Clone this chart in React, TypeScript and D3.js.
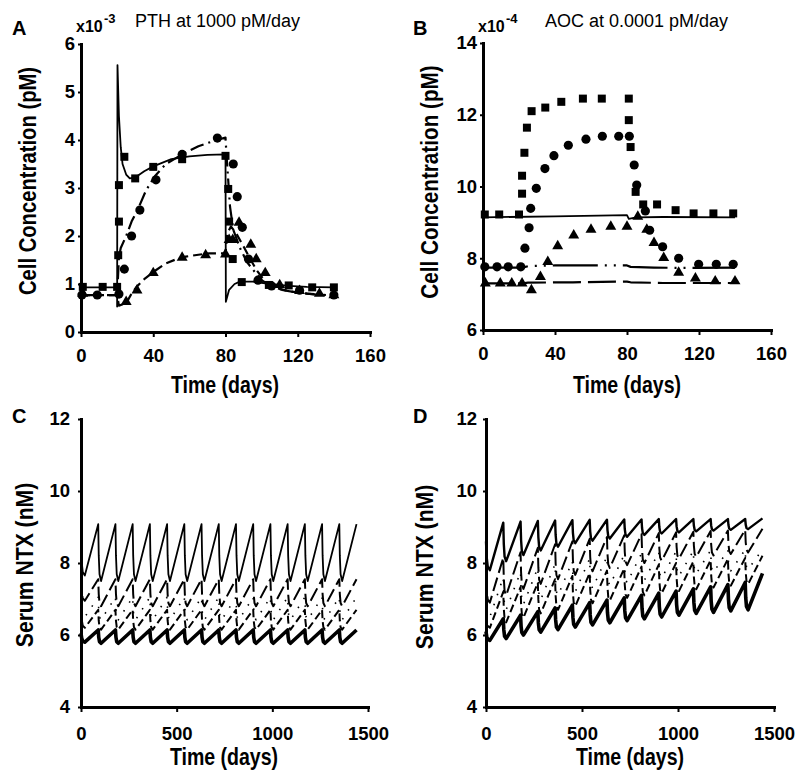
import React, { useEffect, useRef } from "react";
import * as d3 from "d3";

const FONT = "'Liberation Sans', Arial, Helvetica, sans-serif";

// ---------- Panel A : PTH at 1000 pM/day (x10^-3 pM) ----------
const aTicksX = [0, 40, 80, 120, 160];
const aTicksY = [0, 1, 2, 3, 4, 5, 6];
const aSquares: [number, number][] = [
  [1, 0.94], [12, 0.94], [20, 0.94], [20.6, 1.6], [21, 2.3], [21, 3.06], [24, 3.65], [30, 3.2],
  [40, 3.44], [56, 3.6], [80, 3.67], [81.5, 2.98], [82, 2.3], [84, 1.52], [89, 1.04], [104, 0.98],
  [115, 0.97], [128, 0.93], [140, 0.93],
];
const aCircles: [number, number][] = [
  [0.5, 0.77], [9, 0.77], [21, 0.79], [24, 1.31], [28, 2.0], [32.6, 2.54], [41.5, 3.17], [56, 3.7],
  [75.5, 4.04], [84.3, 3.5], [86.5, 2.82], [89.3, 2.18], [92.7, 1.52], [98, 1.08], [105.5, 0.96],
  [121, 0.87], [140, 0.77],
];
const aTriangles: [number, number][] = [
  [1, 0.8], [25, 0.63], [31, 0.87], [40, 1.23], [56, 1.55], [69, 1.6], [80, 1.62], [82, 1.92],
  [84, 1.92], [87.5, 2.28], [94, 1.82], [97, 1.52], [102, 1.23], [110, 0.98], [121, 0.86],
  [132, 0.8], [140, 0.77],
];
const aModelSquares: [number, number][] = [
  [0, 0.93], [20, 0.93], [20, 0.53], [20.2, 5.56], [21, 4.5], [22, 3.85], [23, 3.5], [25, 3.28],
  [27, 3.2], [30, 3.22], [35, 3.35], [40, 3.45], [50, 3.6], [60, 3.66], [70, 3.69], [80, 3.7],
  [80.2, 0.63], [82, 0.88], [85, 1.0], [88, 1.05], [95, 1.05], [105, 1.0], [115, 0.96], [125, 0.94],
  [140, 0.93],
];
const aModelCircles: [number, number][] = [
  [0, 0.77], [20, 0.77], [21, 1.55], [22, 1.75], [25, 2.0], [28, 2.3], [32, 2.6], [36, 2.95],
  [41, 3.25], [47, 3.5], [56, 3.7], [65, 3.87], [75, 4.0], [80, 4.05], [80.5, 3.72], [82.5, 2.61],
  [84.3, 2.13], [88, 1.75], [92, 1.45], [95.4, 1.29], [100, 1.08], [105, 0.96], [112, 0.87],
  [120, 0.82], [130, 0.78], [136, 0.77],
];
const aModelTriangles: [number, number][] = [
  [0, 0.77], [20, 0.77], [21, 0.55], [25, 0.6], [28, 0.8], [31, 0.95], [35, 1.1], [40, 1.25],
  [47, 1.43], [53, 1.52], [58, 1.57], [65, 1.61], [71, 1.64], [80, 1.64], [81, 2.05], [83, 2.2],
  [86, 2.05], [90, 1.78], [94, 1.5], [97.2, 1.29], [102, 1.05], [108, 0.92], [115, 0.85],
  [125, 0.8], [135, 0.77],
];

// ---------- Panel B : AOC at 0.0001 pM/day (x10^-4 pM) ----------
const bTicksX = [0, 40, 80, 120, 160];
const bTicksY = [6, 8, 10, 12, 14];
const bSquares: [number, number][] = [
  [1, 9.22], [9, 9.22], [20, 9.22], [21.7, 9.8], [21.7, 10.3], [23, 10.94], [24.4, 11.64],
  [27, 12.1], [34.6, 12.2], [43.5, 12.36], [55.5, 12.45], [66, 12.45], [81, 12.45], [81, 11.85],
  [82, 11.1], [84.8, 9.85], [89, 9.5], [96.7, 9.5], [107, 9.34], [117, 9.25], [128, 9.25], [139, 9.25],
];
const bCircles: [number, number][] = [
  [1, 7.76], [7.8, 7.76], [14, 7.76], [21, 7.76], [23.3, 8.28], [25.6, 8.85], [26.5, 9.39],
  [29.6, 9.95], [34.4, 10.5], [39.4, 10.86], [47.4, 11.15], [57.2, 11.32], [66.3, 11.4],
  [75.4, 11.4], [81.3, 11.4], [84, 10.6], [85.4, 10.04], [90.2, 9.32], [92.6, 8.78], [99.8, 8.32],
  [108.7, 8.0], [119.8, 7.83], [129.6, 7.83], [139, 7.83],
];
const bTriangles: [number, number][] = [
  [1.3, 7.3], [9.6, 7.3], [16, 7.3], [21.7, 7.3], [26.9, 7.11], [31.9, 7.48], [36, 7.9],
  [41.5, 8.34], [50.4, 8.64], [60, 8.8], [71, 8.88], [80, 8.88], [86, 9.16], [91, 8.8], [95, 8.43],
  [100.4, 8.01], [108.7, 7.6], [118, 7.44], [129, 7.36], [140, 7.36],
];
const bModelSquares: [number, number][] = [
  [0, 9.14], [40, 9.17], [80, 9.2], [81, 9.1], [85, 9.14], [100, 9.15], [140, 9.14],
];
const bModelCircles: [number, number][] = [
  [0, 7.74], [22, 7.74], [25, 7.78], [40, 7.8], [60, 7.8], [80, 7.8], [82, 7.76], [95, 7.74],
  [110, 7.73], [140, 7.74],
];
const bModelTriangles: [number, number][] = [
  [0, 7.3], [22, 7.3], [25, 7.32], [50, 7.33], [80, 7.35], [82, 7.33], [100, 7.31], [140, 7.31],
];

// ---------- Panels C, D : serum NTX (nM), dosing every 90 days ----------
const ntxTicksX = [0, 500, 1000, 1500];
const ntxTicksY = [4, 6, 8, 10, 12];
const doseDays = [0, 90, 180, 270, 360, 450, 540, 630, 720, 810, 900, 990, 1080, 1170, 1260, 1350];
const endDay = 1440;

const cStarts = [8.5, 7.6, 7.0, 6.7, 6.05];
const c1Troughs = [7.65, 7.5, 7.5, 7.5, 7.5, 7.5, 7.5, 7.5, 7.5, 7.5, 7.5, 7.5, 7.5, 7.5, 7.5, 7.5];
const c1Peaks = [9.08, 9.08, 9.08, 9.08, 9.08, 9.08, 9.08, 9.08, 9.08, 9.08, 9.08, 9.08, 9.08, 9.08, 9.08, 9.08];
const c2Troughs = [6.95, 6.8, 6.8, 6.8, 6.8, 6.8, 6.8, 6.8, 6.8, 6.8, 6.8, 6.8, 6.8, 6.8, 6.8, 6.8];
const c2Peaks = [7.55, 7.55, 7.55, 7.55, 7.55, 7.55, 7.55, 7.55, 7.55, 7.55, 7.55, 7.55, 7.55, 7.55, 7.55, 7.55];
const c3Troughs = [6.5, 6.42, 6.42, 6.42, 6.42, 6.42, 6.42, 6.42, 6.42, 6.42, 6.42, 6.42, 6.42, 6.42, 6.42, 6.42];
const c3Peaks = [7.05, 7.05, 7.05, 7.05, 7.05, 7.05, 7.05, 7.05, 7.05, 7.05, 7.05, 7.05, 7.05, 7.05, 7.05, 7.05];
const c4Troughs = [6.2, 6.15, 6.15, 6.15, 6.15, 6.15, 6.15, 6.15, 6.15, 6.15, 6.15, 6.15, 6.15, 6.15, 6.15, 6.15];
const c4Peaks = [6.7, 6.7, 6.7, 6.7, 6.7, 6.7, 6.7, 6.7, 6.7, 6.7, 6.7, 6.7, 6.7, 6.7, 6.7, 6.7];
const c5Troughs = [5.8, 5.77, 5.77, 5.77, 5.77, 5.77, 5.77, 5.77, 5.77, 5.77, 5.77, 5.77, 5.77, 5.77, 5.77, 5.77];
const c5Peaks = [6.14, 6.14, 6.14, 6.14, 6.14, 6.14, 6.14, 6.14, 6.14, 6.14, 6.14, 6.14, 6.14, 6.14, 6.14, 6.14];

const dStarts = [8.6, 7.6, 7.0, 6.6, 6.1];
const d1Troughs = [7.8, 8.05, 8.22, 8.35, 8.45, 8.55, 8.62, 8.68, 8.73, 8.78, 8.82, 8.85, 8.88, 8.9, 8.92, 8.94];
const d1Peaks = [9.12, 9.15, 9.17, 9.18, 9.19, 9.2, 9.2, 9.21, 9.21, 9.22, 9.22, 9.22, 9.22, 9.22, 9.22, 9.24];
const d2Troughs = [6.9, 7.1, 7.28, 7.42, 7.55, 7.67, 7.77, 7.86, 7.94, 8.0, 8.06, 8.12, 8.17, 8.21, 8.25, 8.29];
const d2Peaks = [8.15, 8.3, 8.42, 8.52, 8.6, 8.67, 8.72, 8.77, 8.8, 8.83, 8.85, 8.87, 8.89, 8.9, 8.92, 8.95];
const d3Troughs = [6.5, 6.7, 6.85, 6.98, 7.1, 7.2, 7.3, 7.38, 7.45, 7.52, 7.58, 7.64, 7.7, 7.74, 7.78, 7.82];
const d3Peaks = [7.6, 7.75, 7.87, 7.97, 8.05, 8.12, 8.18, 8.23, 8.27, 8.3, 8.32, 8.34, 8.35, 8.36, 8.37, 8.38];
const d4Troughs = [6.2, 6.35, 6.48, 6.6, 6.7, 6.8, 6.88, 6.96, 7.03, 7.1, 7.16, 7.22, 7.27, 7.32, 7.37, 7.41];
const d4Peaks = [7.2, 7.33, 7.45, 7.55, 7.64, 7.72, 7.79, 7.85, 7.9, 7.95, 8.0, 8.04, 8.08, 8.11, 8.14, 8.2];
const d5Troughs = [5.85, 5.9, 6.0, 6.08, 6.15, 6.22, 6.28, 6.34, 6.4, 6.45, 6.5, 6.55, 6.6, 6.63, 6.67, 6.7];
const d5Peaks = [6.45, 6.55, 6.65, 6.75, 6.83, 6.9, 6.97, 7.03, 7.1, 7.16, 7.22, 7.28, 7.34, 7.4, 7.46, 7.71];

// line styles (not data)
const ntxWidthsC = [1.8, 2, 1.6, 2, 3.6];
const ntxWidthsD = [2.4, 2, 1.6, 2, 3.6];
const ntxDashes = ["", "14,5", "1.5,9", "8,4", ""];

type Pt = [number, number];

function ntxPoints(start: number, troughs: number[], peaks: number[]): Pt[] {
  const pts: Pt[] = [[0, start]];
  doseDays.forEach((dose, k) => {
    const prev = k === 0 ? start : peaks[k - 1];
    const T = troughs[k];
    const delta = prev - T;
    const lag = k === 0 ? 20 : 15;
    pts.push([dose + lag * 0.18, T + 0.45 * delta]);
    pts.push([dose + lag * 0.45, T + 0.12 * delta]);
    pts.push([dose + lag, T]);
    const next = k + 1 < doseDays.length ? doseDays[k + 1] : endDay;
    pts.push([next, peaks[k]]);
  });
  return pts;
}

function Axis({ scale, orient, ticks, y0, x0, pad, size }: any) {
  const ref = useRef<SVGGElement>(null);
  useEffect(() => {
    const fmt = d3.format("d");
    const ax =
      orient === "bottom"
        ? d3.axisBottom(scale).tickValues(ticks).tickFormat(fmt as any).tickSize(size).tickSizeOuter(0).tickPadding(pad)
        : d3.axisLeft(scale).tickValues(ticks).tickFormat(fmt as any).tickSize(size).tickSizeOuter(0).tickPadding(pad);
    const g = d3.select(ref.current as SVGGElement);
    g.call(ax as any);
    g.attr("font-family", FONT).attr("font-size", 18.5);
    g.select(".domain").attr("stroke", "#000").attr("stroke-width", 3).attr("stroke-linecap", "square");
    g.selectAll(".tick line").attr("stroke", "#000").attr("stroke-width", 2);
    g.selectAll(".tick text").attr("font-weight", "bold").attr("fill", "#000");
  }, []);
  const tr = orient === "bottom" ? `translate(0,${y0})` : `translate(${x0},0)`;
  return <g ref={ref} transform={tr} />;
}

const sqSym = d3.symbol(d3.symbolSquare, 64)();
const ciSym = d3.symbol(d3.symbolCircle, 66)();
const trSym = d3.symbol(d3.symbolTriangle, 52)();

function Markers({ data, x, y, sym }: any) {
  return (
    <g>
      {data.map((d: Pt, i: number) => (
        <path key={i} d={sym} transform={`translate(${x(d[0])},${y(d[1])})`} fill="#000" />
      ))}
    </g>
  );
}

function Line({ data, x, y, width, dash }: any) {
  const gen = d3.line<Pt>().x((d) => x(d[0])).y((d) => y(d[1]));
  return (
    <path d={gen(data) || ""} fill="none" stroke="#000" strokeWidth={width}
      strokeDasharray={dash || undefined} strokeLinejoin="round" />
  );
}

function T({ x, y, size = 23, bold = true, anchor = "start", rotate = 0, sx = 1, children }: any) {
  return (
    <text x={0} y={0}
      transform={`translate(${x},${y}) rotate(${rotate}) scale(${sx},1)`}
      fontFamily={FONT} fontSize={size} fontWeight={bold ? "bold" : "normal"}
      textAnchor={anchor} fill="#000">{children}</text>
  );
}

export default function App() {
  const ax = d3.scaleLinear().domain([0, 160]).range([81, 370]);
  const ay = d3.scaleLinear().domain([0, 6]).range([332, 44]);
  const bx = d3.scaleLinear().domain([0, 160]).range([483, 771]);
  const by = d3.scaleLinear().domain([6, 14]).range([330, 43]);
  const cx = d3.scaleLinear().domain([0, 1500]).range([81, 368]);
  const cy = d3.scaleLinear().domain([4, 12]).range([707, 419]);
  const dx = d3.scaleLinear().domain([0, 1500]).range([486, 774]);
  const dy = d3.scaleLinear().domain([4, 12]).range([707, 419]);

  const cLines = [
    ntxPoints(cStarts[0], c1Troughs, c1Peaks),
    ntxPoints(cStarts[1], c2Troughs, c2Peaks),
    ntxPoints(cStarts[2], c3Troughs, c3Peaks),
    ntxPoints(cStarts[3], c4Troughs, c4Peaks),
    ntxPoints(cStarts[4], c5Troughs, c5Peaks),
  ];
  const dLines = [
    ntxPoints(dStarts[0], d1Troughs, d1Peaks),
    ntxPoints(dStarts[1], d2Troughs, d2Peaks),
    ntxPoints(dStarts[2], d3Troughs, d3Peaks),
    ntxPoints(dStarts[3], d4Troughs, d4Peaks),
    ntxPoints(dStarts[4], d5Troughs, d5Peaks),
  ];

  return (
    <svg width={800} height={784} style={{ position: "absolute", left: 0, top: 0, background: "#fff" }}>
      <rect width={800} height={784} fill="#fff" />
      {/* ---------- Panel A ---------- */}
      <T x={12} y={35} size={20}>A</T>
      <T x={76} y={32} size={16}>x10</T>
      <T x={104} y={23} size={13}>-3</T>
      <T x={135} y={27} size={18} bold={false}>PTH at 1000 pM/day</T>
      <Line data={aModelSquares} x={ax} y={ay} width={1.8} />
      <Line data={aModelCircles} x={ax} y={ay} width={2.2} dash="14,5,2,5" />
      <Line data={aModelTriangles} x={ax} y={ay} width={2.2} dash="9,5" />
      <Markers data={aSquares} x={ax} y={ay} sym={sqSym} />
      <Markers data={aCircles} x={ax} y={ay} sym={ciSym} />
      <Markers data={aTriangles} x={ax} y={ay} sym={trSym} />
      <Axis scale={ay} orient="left" ticks={aTicksY} x0={81} size={3} pad={3} />
      <Axis scale={ax} orient="bottom" ticks={aTicksX} y0={332} size={5} pad={12} />
      <T x={225} y={393} anchor="middle" sx={0.85}>Time (days)</T>
      <T x={36} y={181} anchor="middle" rotate={-90} sx={0.88}>Cell Concentration (pM)</T>

      {/* ---------- Panel B ---------- */}
      <T x={413} y={35} size={20}>B</T>
      <T x={478} y={32} size={16}>x10</T>
      <T x={506} y={23} size={13}>-4</T>
      <T x={545} y={27} size={18} bold={false}>AOC at 0.0001 pM/day</T>
      <Line data={bModelSquares} x={bx} y={by} width={1.8} />
      <Line data={bModelCircles} x={bx} y={by} width={2.2} dash="45,7,2,7,2,7" />
      <Line data={bModelTriangles} x={bx} y={by} width={2.2} dash="28,7" />
      <Markers data={bSquares} x={bx} y={by} sym={sqSym} />
      <Markers data={bCircles} x={bx} y={by} sym={ciSym} />
      <Markers data={bTriangles} x={bx} y={by} sym={trSym} />
      <Axis scale={by} orient="left" ticks={bTicksY} x0={483} size={3} pad={3} />
      <Axis scale={bx} orient="bottom" ticks={bTicksX} y0={330} size={5} pad={12} />
      <T x={627} y={393} anchor="middle" sx={0.85}>Time (days)</T>
      <T x={438} y={182} anchor="middle" rotate={-90} sx={0.9}>Cell Concentration (pM)</T>

      {/* ---------- Panel C ---------- */}
      <T x={12} y={423} size={20}>C</T>
      {cLines.map((pts, i) => (
        <Line key={i} data={pts} x={cx} y={cy} width={ntxWidthsC[i]} dash={ntxDashes[i]} />
      ))}
      <Axis scale={cy} orient="left" ticks={ntxTicksY} x0={81} size={3} pad={8} />
      <Axis scale={cx} orient="bottom" ticks={ntxTicksX} y0={707} size={5} pad={15} />
      <T x={224} y={765} anchor="middle" sx={0.85}>Time (days)</T>
      <T x={33} y={565} anchor="middle" rotate={-90} sx={0.92}>Serum NTX (nM)</T>

      {/* ---------- Panel D ---------- */}
      <T x={413} y={423} size={20}>D</T>
      {dLines.map((pts, i) => (
        <Line key={i} data={pts} x={dx} y={dy} width={ntxWidthsD[i]} dash={ntxDashes[i]} />
      ))}
      <Axis scale={dy} orient="left" ticks={ntxTicksY} x0={486} size={3} pad={6} />
      <Axis scale={dx} orient="bottom" ticks={ntxTicksX} y0={707} size={5} pad={15} />
      <T x={630} y={765} anchor="middle" sx={0.85}>Time (days)</T>
      <T x={433} y={567} anchor="middle" rotate={-90} sx={0.92}>Serum NTX (nM)</T>
    </svg>
  );
}
